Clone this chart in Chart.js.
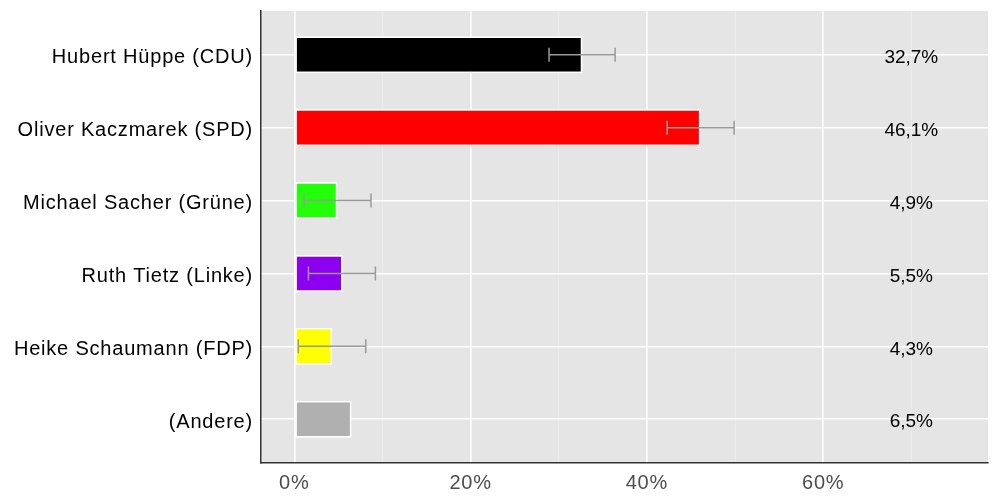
<!DOCTYPE html>
<html>
<head>
<meta charset="utf-8">
<script src="https://cdn.jsdelivr.net/npm/chart.js@4/dist/chart.umd.min.js"></script>
<style>
  html, body { margin: 0; padding: 0; background: #fff; }
  #wrap { width: 1000px; height: 500px; }
</style>
</head>
<body>
<div id="wrap"><canvas id="chart" width="1000" height="500"></canvas></div>
<script>
const categories = [
  "Hubert Hüppe (CDU)",
  "Oliver Kaczmarek (SPD)",
  "Michael Sacher (Grüne)",
  "Ruth Tietz (Linke)",
  "Heike Schaumann (FDP)",
  "(Andere)",
];
const shares = [32.7, 46.1, 4.9, 5.5, 4.3, 6.5];
const errLow = [28.9, 42.3, 1.1, 1.6, 0.45, null];
const errHigh = [36.4, 49.9, 8.7, 9.2, 8.1, null];
const barColors = ["#000000", "#fe0000", "#22ff08", "#8b00ee", "#ffff00", "#b0b0b0"];
const xTicks = [0, 10, 20, 30, 40, 50, 60, 70];
const labelPos = 70;

const font = "'Liberation Sans', Arial, sans-serif";

// axis text in the original is set a bit wider than Arial metrics
const spacing = {
  id: "spacing",
  beforeUpdate(chart) { chart.ctx.letterSpacing = "0.8px"; },
  beforeDraw(chart) { chart.ctx.letterSpacing = "0.8px"; },
};

const panelBg = {
  id: "panelBg",
  beforeDraw(chart) {
    const { ctx, chartArea: a } = chart;
    ctx.save();
    ctx.fillStyle = "#e5e5e5";
    ctx.fillRect(a.left, a.top, a.right - a.left, a.bottom - a.top);
    ctx.restore();
  },
};

const errorBars = {
  id: "errorBars",
  afterDatasetsDraw(chart) {
    const { ctx, scales } = chart;
    ctx.save();
    ctx.letterSpacing = "0px";
    ctx.strokeStyle = "#999999";
    ctx.lineWidth = 1.5;
    categories.forEach((_, i) => {
      if (errLow[i] == null) return;
      const y = scales.y.getPixelForValue(i);
      const x1 = scales.x.getPixelForValue(errLow[i]);
      const x2 = scales.x.getPixelForValue(errHigh[i]);
      ctx.beginPath();
      ctx.moveTo(x1, y); ctx.lineTo(x2, y);
      ctx.moveTo(x1, y - 7); ctx.lineTo(x1, y + 7);
      ctx.moveTo(x2, y - 7); ctx.lineTo(x2, y + 7);
      ctx.stroke();
    });
    // value labels
    ctx.fillStyle = "#000";
    ctx.font = "19px " + font;
    ctx.textAlign = "center";
    ctx.textBaseline = "middle";
    shares.forEach((v, i) => {
      const y = scales.y.getPixelForValue(i);
      ctx.fillText(v.toFixed(1).replace(".", ",") + "%", scales.x.getPixelForValue(labelPos), y + 3);
    });
    ctx.restore();
  },
};

new Chart(document.getElementById("chart"), {
  type: "bar",
  data: {
    datasets: [{
      data: shares.map((v, i) => ({ x: v, y: i })),
      backgroundColor: barColors,
      borderColor: "#ffffff",
      borderWidth: 1.8,
      borderSkipped: false,
      barPercentage: 0.51,
      categoryPercentage: 1,
    }],
  },
  options: {
    indexAxis: "y",
    responsive: false,
    animation: false,
    layout: { padding: { top: 11, right: 12, left: 0, bottom: 0 } },
    plugins: { legend: { display: false }, tooltip: { enabled: false } },
    scales: {
      x: {
        type: "linear",
        min: -3.78,
        max: 78.7,
        afterBuildTicks: (s) => { s.ticks = xTicks.map((v) => ({ value: v })); },
        afterFit: (s) => { s.height = 37; },
        ticks: {
          autoSkip: false,
          maxRotation: 0,
          color: "#4d4d4d",
          font: { family: font, size: 20 },
          padding: 8,
          callback: (v) => (v % 20 === 0 ? v + "%" : ""),
        },
        grid: {
          drawTicks: false,
          color: (c) => (c.tick && c.tick.value % 20 === 0 ? "#ffffff" : "#ebebeb"),
          lineWidth: (c) => (c.tick && c.tick.value % 20 === 0 ? 1.6 : 1),
        },
        border: { display: true, color: "#333333", width: 1.5 },
      },
      y: {
        type: "linear",
        reverse: true,
        offset: false,
        min: -0.6,
        max: categories.length - 0.4,
        afterBuildTicks: (s) => { s.ticks = categories.map((_, i) => ({ value: i })); },
        afterFit: (s) => { s.width = 261; s.paddingTop = 0; s.paddingBottom = 0; },
        ticks: {
          autoSkip: false,
          color: "#000000",
          font: { family: font, size: 20 },
          padding: 8,
          labelOffset: 3,
          callback: (v) => categories[v],
        },
        grid: { drawTicks: false, offset: false, color: "#ffffff", lineWidth: 1.6 },
        border: { display: true, color: "#333333", width: 1.5 },
      },
    },
  },
  plugins: [spacing, panelBg, errorBars],
});
</script>
</body>
</html>
